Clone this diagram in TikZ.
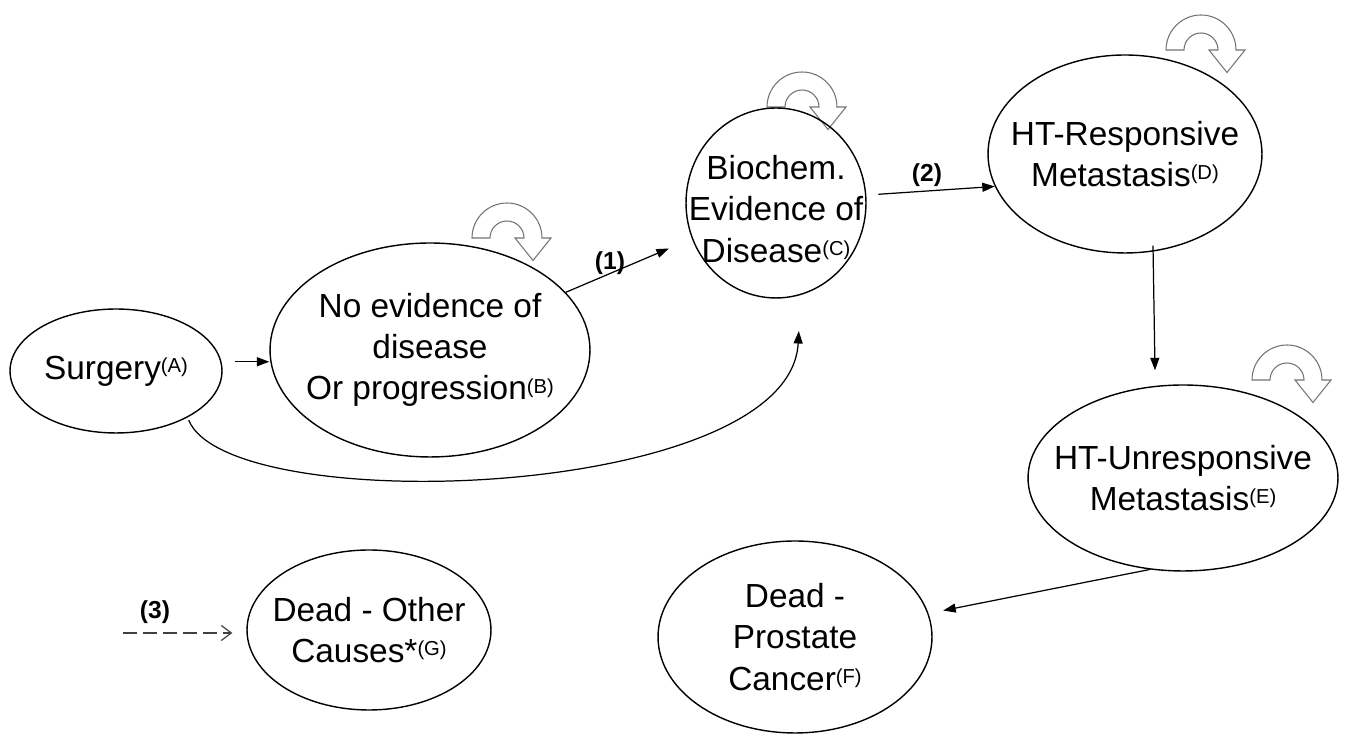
\documentclass[tikz,border=0pt]{standalone}
\usepackage{fontspec}
\setmainfont{Liberation Sans}
\usetikzlibrary{arrows.meta,shapes,positioning,calc}
\tikzstyle{state}     = [ellipse, draw, line width=0.8pt, inner sep=0pt]
\tikzstyle{txt}       = [align=center, inner sep=0pt, font=\fontsize{19}{23.5}\selectfont]
\tikzstyle{num}       = [inner sep=0pt, font=\fontsize{14}{14}\selectfont\bfseries]
\tikzstyle{arrow}     = [line width=0.7pt, -{Triangle[length=0.25cm,width=0.18cm]}]
\tikzstyle{dasharrow} = [line width=0.7pt, black!75, dash pattern=on 0.28cm off 0.12cm, -{Straight Barb[length=0.2cm,width=0.3cm]}]
\tikzstyle{uturn}     = [draw=black!55, fill=white, line width=0.6pt]
\newcommand{\lbl}[1]{\raisebox{3.8pt}{\fontsize{11.5}{11.5}\selectfont(#1)}}
% block u-turn arrow sitting on (#1,#2)
\newcommand{\selfloop}[2]{%
  \draw[uturn] (#1,#2) ++(-0.7cm,0) arc (180:0:0.7cm) -- ++(0.18cm,0)
     -- ++(-0.36cm,-0.45cm) -- ++(-0.36cm,0.45cm) -- ++(0.18cm,0)
     arc (0:180:0.34cm) -- cycle;}

\begin{document}
\begin{tikzpicture}[x=0.02cm, y=0.02cm]
    \useasboundingbox (0,0) rectangle (1363,736);

    % self transitions
    \selfloop{507}{498}
    \selfloop{802}{629}
    \selfloop{1201}{686}
    \selfloop{1287}{356}

    % states
    \node[state, minimum width=4.24cm, minimum height=2.48cm] (A) at (116,365) {};
    \node[state, minimum width=6.4cm,  minimum height=4.28cm] (B) at (430,386) {};
    \node[state, minimum width=3.6cm,  minimum height=3.8cm]  (C) at (776,533) {};
    \node[state, minimum width=5.48cm, minimum height=3.96cm] (D) at (1125,582) {};
    \node[state, minimum width=6.2cm,  minimum height=3.72cm] (E) at (1183,258) {};
    \node[state, minimum width=5.48cm, minimum height=3.84cm] (F) at (795,99) {};
    \node[state, minimum width=4.88cm, minimum height=3.2cm]  (G) at (369,106) {};

    \node[txt] (tA) at (A) {Surgery\lbl{A}};
    \node[txt] (tB) at (B) {No evidence of\\disease\\Or progression\lbl{B}};
    \node[txt] (tC) at ($(C)+(0,-6)$) {Biochem.\\Evidence of\\Disease\lbl{C}};
    \node[txt] (tD) at (D) {HT-Responsive\\Metastasis\lbl{D}};
    \node[txt] (tE) at (E) {HT-Unresponsive\\Metastasis\lbl{E}};
    \node[txt] (tF) at (F) {Dead -\\Prostate\\Cancer\lbl{F}};
    \node[txt] (tG) at (G) {Dead - Other\\Causes*\lbl{G}};

    % transitions
    \draw[arrow, shorten <=0.26cm] (A.5) -- (A.5 -| B.west);
    \draw[arrow, shorten >=0.5cm] (B) -- (C);
    \draw[arrow, shorten <=0.24cm] (C.5) -- (D.194);
    \draw[arrow] ([xshift=0.56cm,yshift=0.16cm]D.south) -- ([xshift=-0.56cm,yshift=0.28cm]E.north);
    \draw[arrow, shorten >=0.3cm] (E.250) -- (F.10);
    \draw[arrow, shorten <=0.06cm, shorten >=0.72cm] (A.-33) .. controls (230,216) and (790,236) .. (C.-75);

    \coordinate (dstart) at (123,103);
    \draw[dasharrow, shorten >=0.28cm] (dstart) -- (dstart -| G.west);

    \node[num] (n1) at (610,473) {(1)};
    \node[num] (n2) at (927,561) {(2)};
    \node[num] (n3) at (155,124) {(3)};
\end{tikzpicture}
\end{document}
